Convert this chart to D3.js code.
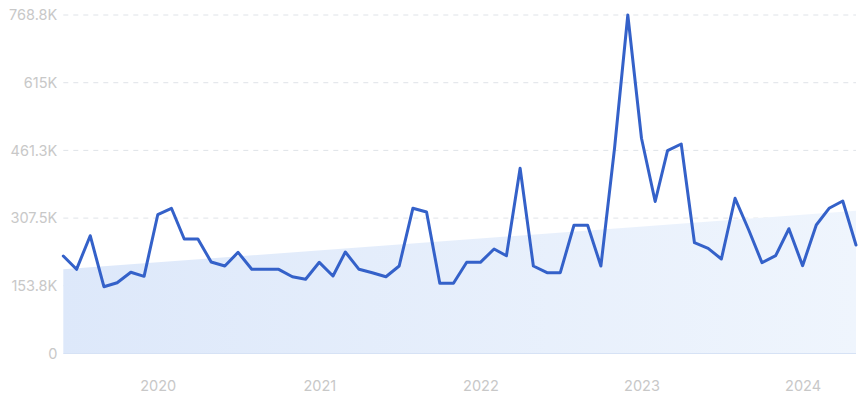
<!DOCTYPE html>
<html>
<head>
<meta charset="utf-8">
<script src="https://cdn.jsdelivr.net/npm/d3@7"></script>
<style>
html,body{margin:0;padding:0;background:#fff;}
svg{display:block;}
text{font-family:Inter, Roboto, "Noto Sans", sans-serif;}
</style>
</head>
<body>
<svg id="chart" width="864" height="401"></svg>
<script>
// Monthly data, Jun 2019 .. May 2024 (thousands)
const startMonth = "2019-06";
const values = [
  221.4, 191.2, 267.5, 151.7, 160.8, 184.4, 175.3,
  315.2, 329.8, 260.1, 260.1, 207.8, 198.7, 229.8, 191.2, 191.2, 191.2, 174.4, 168.5, 207.1,
  176.0, 230.5, 191.2, 183.5, 174.4, 198.7, 329.8, 321.4, 159.4, 159.4, 207.1, 207.1,
  237.3, 222.1, 420.6, 198.7, 183.5, 183.5, 291.2, 291.2, 198.7, 466.7, 768.8,
  488.8, 345.2, 460.6, 475.8, 251.6, 238.9, 214.6, 352.5, 280.5, 206.2, 222.1, 283.4,
  199.4, 291.9, 329.8, 346.4, 246.4
];
const trendValues = [191.2, 324.3]; // trend at first and last month (thousands)
const yTickValues = [0, 153.8, 307.5, 461.3, 615, 768.8];
const yTickLabels = ["0", "153.8K", "307.5K", "461.3K", "615K", "768.8K"];
const xTickLabels = ["2020", "2021", "2022", "2023", "2024"];

const W = 864, H = 401;
const margin = {left: 63.3, right: 8, top: 15, bottom: 47.5};

const parse = d3.utcParse("%Y-%m");
const start = parse(startMonth);
const data = values.map((v, i) => ({date: d3.utcMonth.offset(start, i), value: v}));

const svg = d3.select("#chart");

const x = d3.scaleUtc()
  .domain([data[0].date, data[data.length - 1].date])
  .range([margin.left, W - margin.right]);
const y = d3.scaleLinear()
  .domain([0, 768.8])
  .range([H - margin.bottom, margin.top]);

// gradient for trend area
const defs = svg.append("defs");
const grad = defs.append("linearGradient").attr("id", "tg")
  .attr("x1", "0%").attr("y1", "0%").attr("x2", "100%").attr("y2", "0%");
grad.append("stop").attr("offset", "0%").attr("stop-color", "#dde8fa");
grad.append("stop").attr("offset", "100%").attr("stop-color", "#eff5fd");

// gridlines
const grid = svg.append("g");
grid.selectAll("line").data(yTickValues.slice(1)).join("line")
  .attr("x1", margin.left).attr("x2", W - margin.right)
  .attr("y1", d => y(d)).attr("y2", d => y(d))
  .attr("stroke", "#dfe3e8").attr("stroke-width", 1)
  .attr("stroke-dasharray", "5,5");

// trend area
const trend = [
  {date: data[0].date, value: trendValues[0]},
  {date: data[data.length - 1].date, value: trendValues[1]}
];
svg.append("path").datum(trend)
  .attr("fill", "url(#tg)")
  .attr("d", d3.area().x(d => x(d.date)).y0(y(0)).y1(d => y(d.value)));

// baseline
svg.append("line")
  .attr("x1", margin.left).attr("x2", W - margin.right)
  .attr("y1", y(0)).attr("y2", y(0))
  .attr("stroke", "#d6e2f5").attr("stroke-width", 1);

// line
svg.append("path").datum(data)
  .attr("fill", "none")
  .attr("stroke", "#3461c9")
  .attr("stroke-width", 3)
  .attr("stroke-linejoin", "round")
  .attr("stroke-linecap", "round")
  .attr("d", d3.line().x(d => x(d.date)).y(d => y(d.value)));

// y axis labels
const yAxis = d3.axisLeft(y).tickValues(yTickValues)
  .tickFormat((d, i) => yTickLabels[i]).tickSize(0).tickPadding(0);
const gy = svg.append("g").attr("transform", `translate(${margin.left - 6},0)`).call(yAxis);
gy.select(".domain").remove();
gy.selectAll("text").attr("fill", "#c8c8c8").style("font-size", "14.5px")
  .style("font-family", "Inter, Roboto, sans-serif");

// x axis labels
const years = xTickLabels.map(s => d3.utcParse("%Y")(s));
const xAxis = d3.axisBottom(x).tickValues(years)
  .tickFormat((d, i) => xTickLabels[i]).tickSize(0).tickPadding(0);
const gx = svg.append("g").attr("transform", `translate(0,${H - margin.bottom + 27})`).call(xAxis);
gx.select(".domain").remove();
gx.selectAll("text").attr("fill", "#c8c8c8").style("font-size", "14.5px")
  .style("font-family", "Inter, Roboto, sans-serif");
</script>
</body>
</html>
